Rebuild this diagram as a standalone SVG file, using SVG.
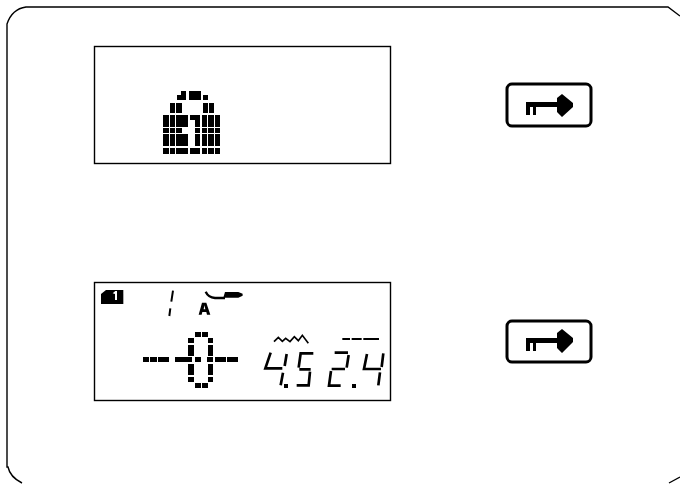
<svg xmlns="http://www.w3.org/2000/svg" width="680" height="484" viewBox="0 0 680 484">
<style>
.o{fill:none;stroke:#000}
.k{fill:#000}
.c{shape-rendering:crispEdges}
</style>
<rect width="680" height="484" fill="#fff"/>
<g id="frame"><path class="o" stroke-width="1.4" d="M22 483Q10 477 8 467H7V24Q12 9 26 7H668L680 16M669 483L680 477"/></g>
<g id="lcd-lock">
<rect class="o" x="94.5" y="46.5" width="296" height="117" stroke-width="1.4"/>
<g class="k c">
<path d="M177 95H181V91H186V100H177ZM189 91H201V100H189ZM203 95H208V100H203Z"/>
<rect x="170" y="103" width="5" height="10"/><rect x="176" y="103" width="6" height="10"/><rect x="203" y="103" width="5" height="10"/><rect x="209" y="103" width="5" height="10"/>
<rect x="163" y="115" width="6" height="12"/><rect x="170" y="115" width="5" height="12"/><rect x="176" y="115" width="12" height="12"/><path d="M190 115H200V127H195V120H190Z"/><rect x="202" y="115" width="5" height="12"/><rect x="208" y="115" width="6" height="12"/><rect x="215" y="115" width="5" height="12"/>
<rect x="163" y="128" width="6" height="5"/><rect x="170" y="128" width="5" height="5"/><rect x="176" y="128" width="6" height="5"/><rect x="195" y="128" width="5" height="5"/><rect x="202" y="128" width="5" height="5"/><rect x="208" y="128" width="6" height="5"/><rect x="215" y="128" width="5" height="5"/>
<rect x="163" y="134" width="6" height="12"/><rect x="170" y="134" width="5" height="12"/><rect x="176" y="134" width="12" height="12"/><rect x="195" y="134" width="5" height="12"/><rect x="202" y="134" width="5" height="12"/><rect x="208" y="134" width="6" height="12"/><rect x="215" y="134" width="5" height="12"/>
<rect x="163" y="148" width="6" height="6"/><rect x="170" y="148" width="5" height="6"/><rect x="176" y="148" width="12" height="6"/><rect x="190" y="148" width="10" height="6"/><rect x="202" y="148" width="5" height="6"/><rect x="208" y="148" width="6" height="6"/><rect x="215" y="148" width="5" height="6"/>
</g>
</g>
<g id="key-top">
<rect class="o" x="507" y="84" width="84" height="42" rx="5" stroke-width="3"/>
<path class="k" d="M526 102H557V98L562 94L573 103V107L562 117L557 112V107H536V115H533V107H530V115H526Z"/>
</g>
<g id="lcd-stitch">
<rect class="o" x="94.5" y="282.5" width="296" height="118" stroke-width="1.4"/>
<g transform="translate(90 280) scale(.3333)">
<path class="k" d="M33 42L48 30H100V72H33Z"/><path d="M68 40L76 33H81V60H75V42Z" fill="#fff"/>
<path class="o" stroke-width="6" d="M249 32L244 65M241 85L238 108"/>
<path class="o" stroke-width="7" d="M347 35Q355 52 375 54H405"/><path class="k" d="M405 36H445L458 41V47L445 53H400Z"/>
<path class="k" d="M336 68H349L361 104H351L349 96H337L335 104H326ZM341 88H346L343 76Z"/>
<g class="k c">
<rect x="160" y="232" width="17" height="15"/><rect x="181" y="232" width="19" height="15"/><rect x="204" y="232" width="34" height="15"/><rect x="255" y="232" width="18" height="15"/><rect x="274" y="232" width="33" height="15"/><rect x="315" y="232" width="18" height="15"/><rect x="352" y="232" width="17" height="15"/><rect x="375" y="232" width="33" height="15"/><rect x="411" y="232" width="33" height="15"/>
<rect x="315" y="156" width="17" height="16"/><rect x="336" y="156" width="17" height="16"/><rect x="295" y="175" width="16" height="15"/><rect x="353" y="175" width="16" height="15"/><rect x="295" y="194" width="16" height="33"/><rect x="353" y="194" width="16" height="33"/><rect x="295" y="252" width="16" height="33"/><rect x="353" y="252" width="16" height="33"/><rect x="295" y="290" width="16" height="16"/><rect x="353" y="290" width="16" height="16"/><rect x="315" y="308" width="17" height="16"/><rect x="336" y="308" width="17" height="16"/>
</g>
</g>
<g transform="translate(250 320) scale(.3333)" class="o" stroke-width="8">
<path stroke-width="5" d="M72 65L85 52L97 64L107 55L120 65L133 50L145 62L157 46L175 70"/>
<path stroke-width="6" d="M277 57H300M305 57H335M340 57H387"/>
<path d="M62 98L46 145H97M110 102L104 138M99 158L92 196"/>
<path d="M146 143L152 100H190M148 148H182M180 155L176 196H140"/>
<path d="M254 98H294M296 105L290 143M285 147H245M243 153L237 197H272"/>
<path d="M351 102L342 147H393M400 100L395 141M390 157L385 196"/>
</g>
<g class="k"><rect x="284" y="384" width="4" height="4"/><rect x="352" y="384" width="4" height="4"/></g>
</g>
<g id="key-bottom">
<rect class="o" x="507" y="321" width="84" height="41" rx="5" stroke-width="3"/>
<path class="k" d="M526 338H557V333L562 329L573 338V342L562 353L557 348V343H536V351H533V343H530V351H526Z"/>
</g>
</svg>
